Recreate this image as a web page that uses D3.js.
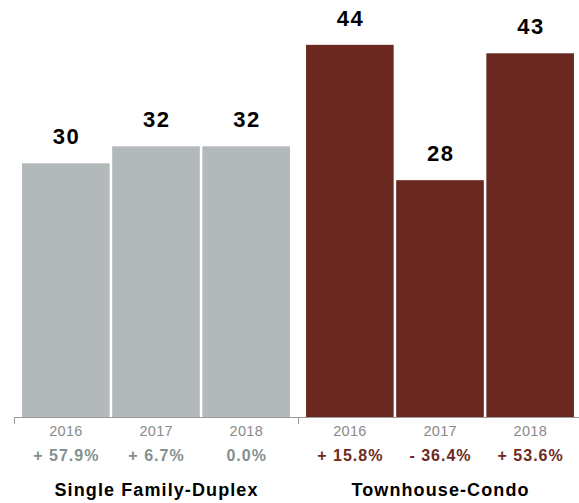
<!DOCTYPE html>
<html>
<head>
<meta charset="utf-8">
<script src="https://cdn.jsdelivr.net/npm/d3@7"></script>
<style>
  html, body { margin: 0; padding: 0; background: #fff; }
  svg { display: block; font-family: "Liberation Sans", Arial, Helvetica, sans-serif; }
</style>
</head>
<body>
<svg id="chart" width="579" height="503"></svg>
<script>
// Property types and sale years
const groups = ["Single Family-Duplex", "Townhouse-Condo"];
const years = ["2016", "2017", "2018"];

// Sales counts per year, one array per property type
const singleFamily = [30, 32, 32];
const townhouse = [44, 28, 43];

// Year-over-year change labels
const singleFamilyChange = ["+ 57.9%", "+ 6.7%", "0.0%"];
const townhouseChange = ["+ 15.8%", "- 36.4%", "+ 53.6%"];

const series = [
  { group: groups[0], values: singleFamily, change: singleFamilyChange, fill: "#b3b9ba", text: "#84908f" },
  { group: groups[1], values: townhouse, change: townhouseChange, fill: "#6a2820", text: "#6e2a22" }
];

const svg = d3.select("#chart");
const baseline = 417;

const x0 = d3.scaleBand().domain(groups).range([14, 582]).padding(0);
const x1 = d3.scaleBand().domain(years).range([0, x0.bandwidth()])
  .paddingInner(0.028).paddingOuter(0.089);
const y = d3.scaleLinear().domain([0, 49.3]).range([baseline, 0]);

// Centered text with extra tracking; dx offsets the trailing spacing
function tracked(sel, spacing) {
  return sel.attr("text-anchor", "middle")
    .attr("letter-spacing", spacing)
    .attr("dx", spacing / 2);
}

// Axis along the base, with ticks at the group boundaries
const axis = svg.append("g");
axis.append("line")
  .attr("x1", x0.range()[0]).attr("x2", x0.range()[1])
  .attr("y1", baseline + 0.5).attr("y2", baseline + 0.5)
  .attr("stroke", "#9a9a9a").attr("stroke-width", 1);
[x0.range()[0], x0(groups[1])].forEach(t => {
  axis.append("line")
    .attr("x1", t + 0.5).attr("x2", t + 0.5)
    .attr("y1", baseline).attr("y2", baseline + 7)
    .attr("stroke", "#9a9a9a").attr("stroke-width", 1);
});

const g = svg.selectAll("g.group")
  .data(series)
  .join("g")
  .attr("class", "group")
  .attr("transform", d => `translate(${x0(d.group)},0)`);

// Bars
g.selectAll("rect")
  .data(d => d.values.map((v, i) => ({ v, year: years[i], fill: d.fill })))
  .join("rect")
  .attr("x", d => x1(d.year))
  .attr("width", x1.bandwidth())
  .attr("y", d => y(d.v))
  .attr("height", d => baseline - y(d.v))
  .attr("fill", d => d.fill);

// Value labels above bars
g.selectAll("text.value")
  .data(d => d.values.map((v, i) => ({ v, year: years[i] })))
  .join("text")
  .attr("class", "value")
  .attr("x", d => x1(d.year) + x1.bandwidth() / 2)
  .attr("y", d => y(d.v) - 19)
  .attr("font-size", 22)
  .attr("font-weight", "bold")
  .attr("fill", "#000")
  .call(tracked, 1.5)
  .text(d => d.v);

// Year labels
g.selectAll("text.year")
  .data(years)
  .join("text")
  .attr("class", "year")
  .attr("x", d => x1(d) + x1.bandwidth() / 2)
  .attr("y", 436)
  .attr("font-size", 14.5)
  .attr("fill", "#8a8a8a")
  .call(tracked, 0.3)
  .text(d => d);

// Change labels
g.selectAll("text.change")
  .data(d => d.change.map((c, i) => ({ c, year: years[i], color: d.text })))
  .join("text")
  .attr("class", "change")
  .attr("x", d => x1(d.year) + x1.bandwidth() / 2)
  .attr("y", 461)
  .attr("font-size", 16)
  .attr("font-weight", "bold")
  .attr("fill", d => d.color)
  .call(tracked, 1)
  .text(d => d.c);

// Group labels
g.append("text")
  .attr("x", x0.bandwidth() / 2)
  .attr("y", 496)
  .attr("font-size", 18)
  .attr("font-weight", "bold")
  .attr("fill", "#000")
  .call(tracked, 1.1)
  .text(d => d.group);
</script>
</body>
</html>
